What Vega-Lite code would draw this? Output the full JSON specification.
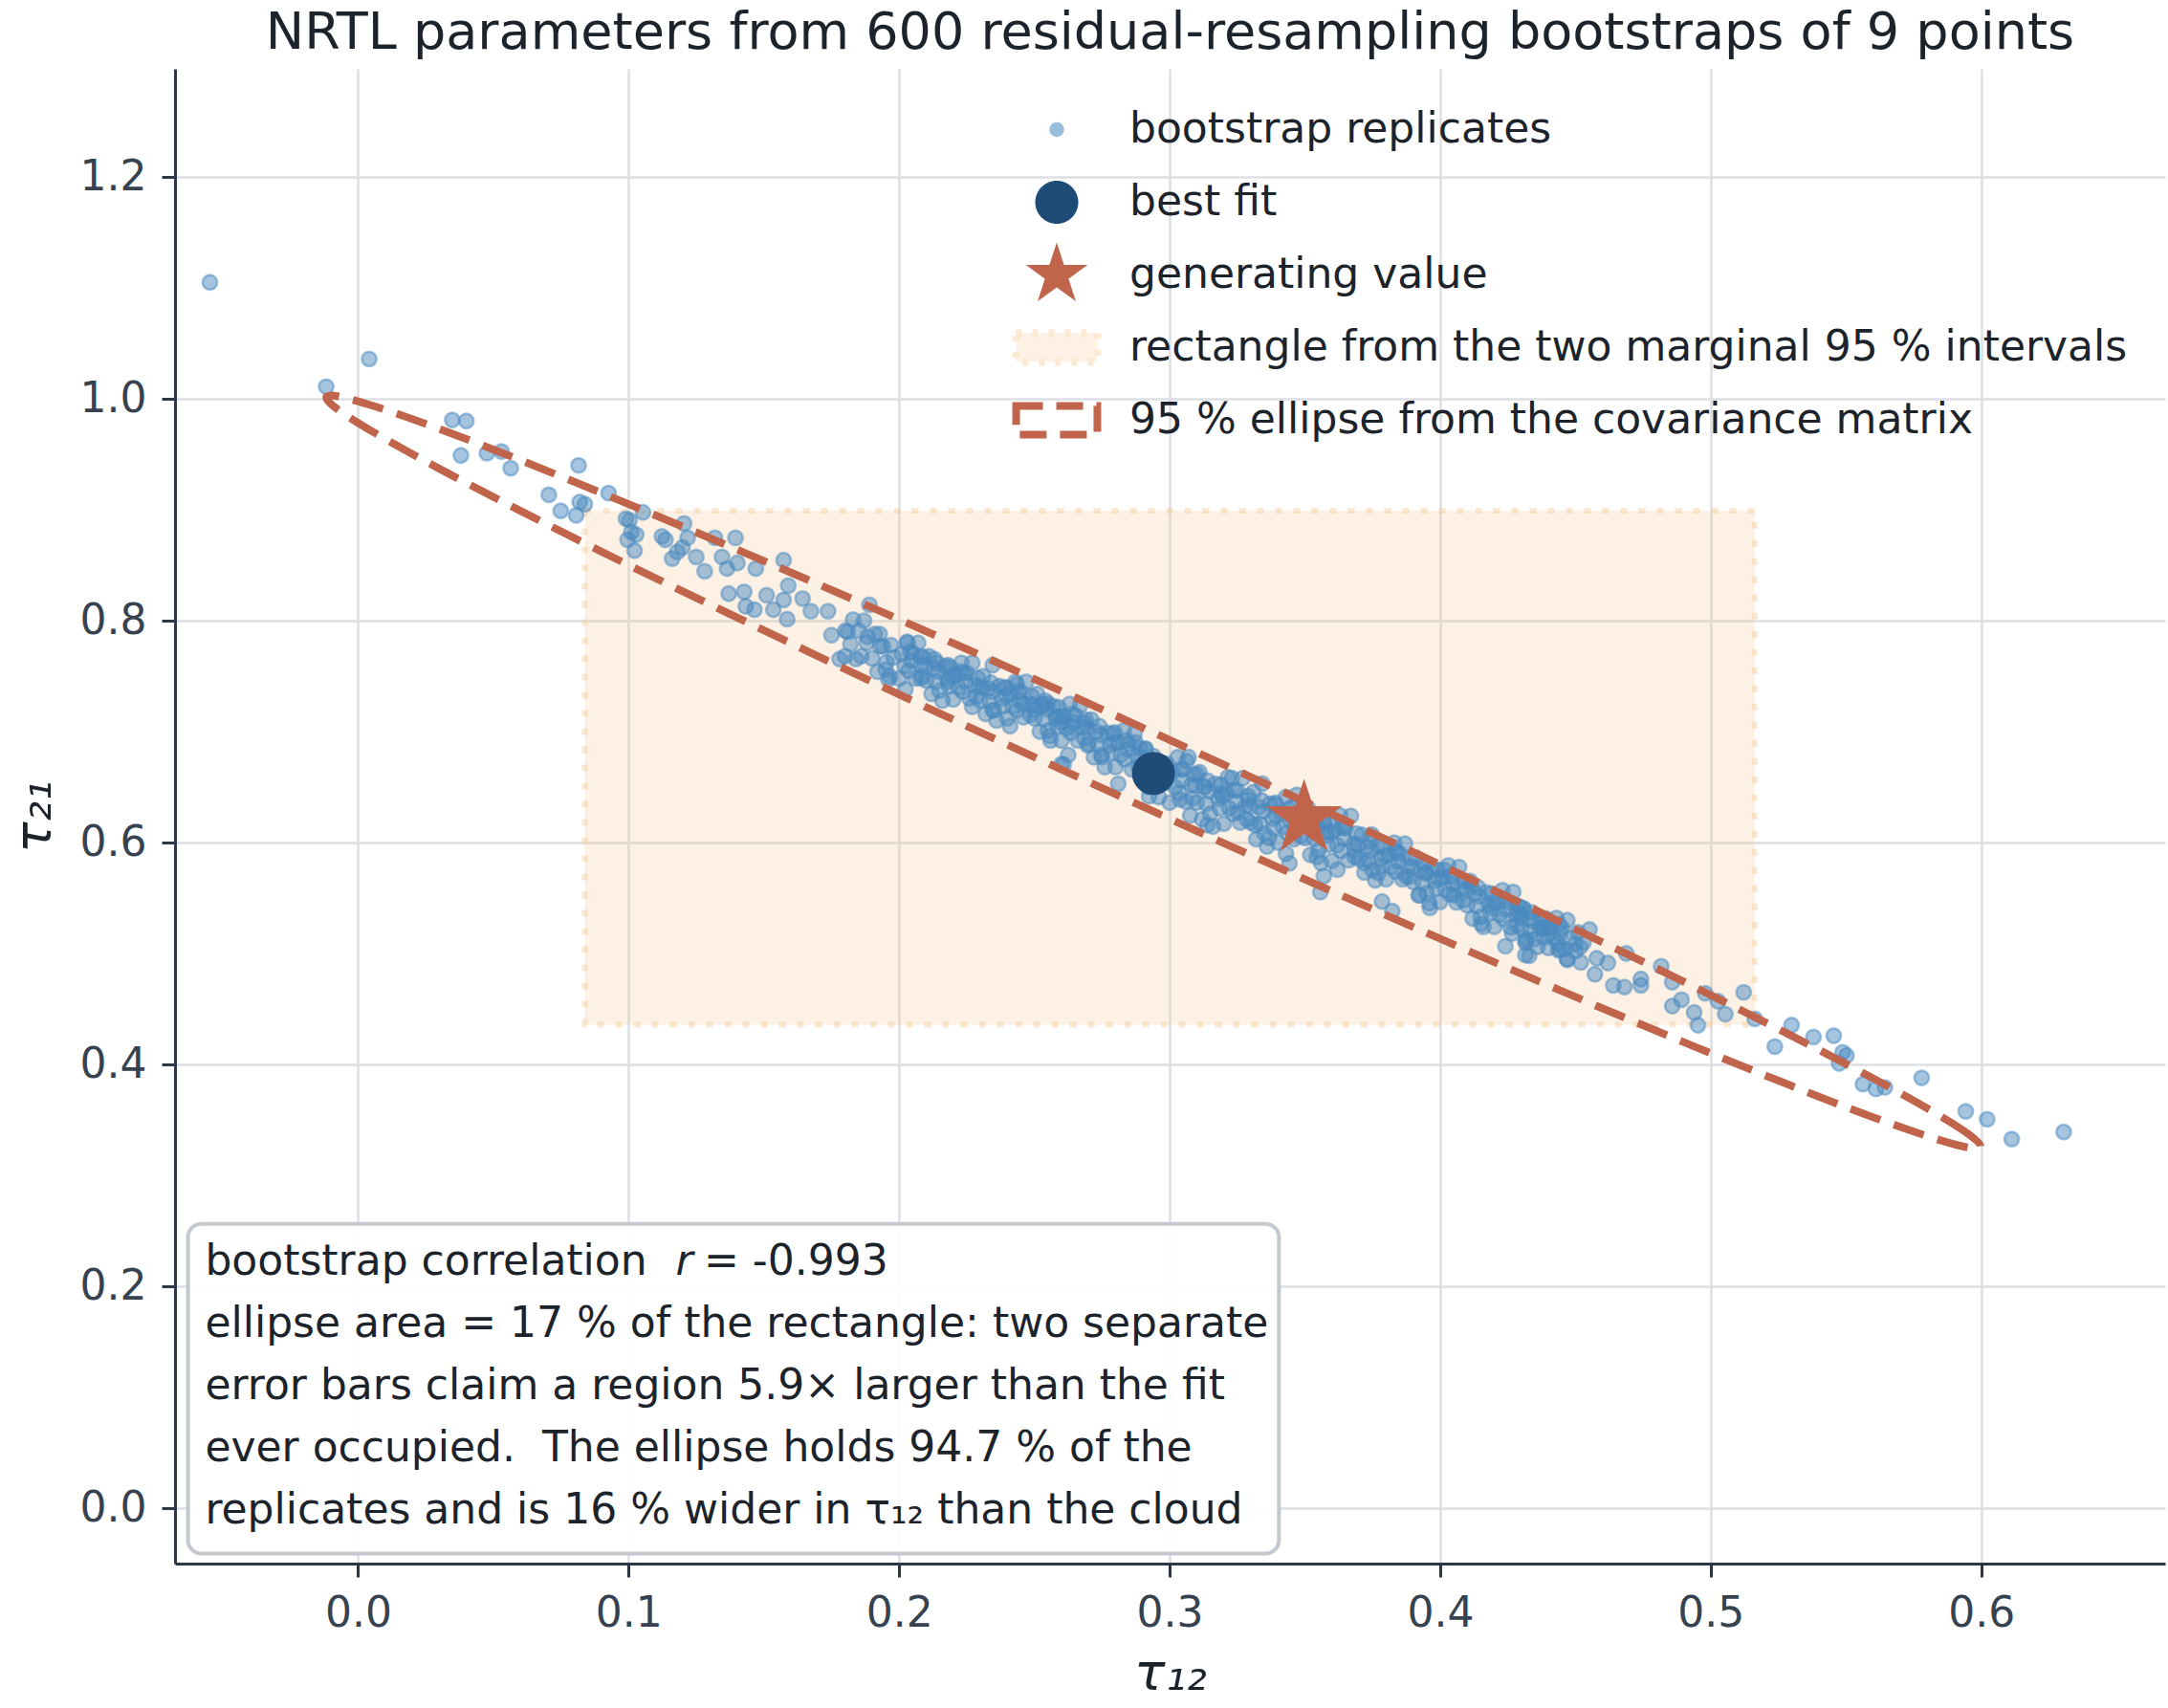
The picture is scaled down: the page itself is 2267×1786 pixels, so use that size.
{
  "$schema": "https://vega.github.io/schema/vega-lite/v6.json",
  "width": 2081,
  "height": 1563,
  "autosize": {"type": "none"},
  "padding": {"left": 183, "top": 72, "right": 3, "bottom": 151},
  "background": "white",
  "title": {
    "text": "NRTL parameters from 600 residual-resampling bootstraps of 9 points",
    "font": "DejaVu Sans",
    "fontSize": 54,
    "fontWeight": "normal",
    "color": "#1c232b",
    "anchor": "middle",
    "offset": 10
  },
  "datasets": {
    "interval": [{"x_lo": 0.0838, "x_hi": 0.5163, "y_lo": 0.4359, "y_hi": 0.8992}],
    "best": [{"t12": 0.294, "t21": 0.6624}],
    "truth": [{"t12": 0.3497, "t21": 0.6216}],
    "ellipse": [
      {"i": 0, "t12": 0.5998, "t21": 0.3261},
      {"i": 1, "t12": 0.5952, "t21": 0.3374},
      {"i": 2, "t12": 0.5814, "t21": 0.3585},
      {"i": 3, "t12": 0.5588, "t21": 0.3891},
      {"i": 4, "t12": 0.5282, "t21": 0.4279},
      {"i": 5, "t12": 0.4906, "t21": 0.4739},
      {"i": 6, "t12": 0.4469, "t21": 0.5255},
      {"i": 7, "t12": 0.3986, "t21": 0.5816},
      {"i": 8, "t12": 0.3471, "t21": 0.64},
      {"i": 9, "t12": 0.294, "t21": 0.6991},
      {"i": 10, "t12": 0.2409, "t21": 0.7572},
      {"i": 11, "t12": 0.1894, "t21": 0.8124},
      {"i": 12, "t12": 0.1411, "t21": 0.8631},
      {"i": 13, "t12": 0.0974, "t21": 0.9077},
      {"i": 14, "t12": 0.0598, "t21": 0.9449},
      {"i": 15, "t12": 0.0292, "t21": 0.9737},
      {"i": 16, "t12": 0.0066, "t21": 0.9929},
      {"i": 17, "t12": -0.0072, "t21": 1.0022},
      {"i": 18, "t12": -0.0118, "t21": 1.0011},
      {"i": 19, "t12": -0.0072, "t21": 0.9898},
      {"i": 20, "t12": 0.0066, "t21": 0.9687},
      {"i": 21, "t12": 0.0292, "t21": 0.9381},
      {"i": 22, "t12": 0.0598, "t21": 0.8993},
      {"i": 23, "t12": 0.0974, "t21": 0.8533},
      {"i": 24, "t12": 0.1411, "t21": 0.8017},
      {"i": 25, "t12": 0.1894, "t21": 0.7456},
      {"i": 26, "t12": 0.2409, "t21": 0.6872},
      {"i": 27, "t12": 0.294, "t21": 0.6281},
      {"i": 28, "t12": 0.3471, "t21": 0.57},
      {"i": 29, "t12": 0.3986, "t21": 0.5148},
      {"i": 30, "t12": 0.4469, "t21": 0.4641},
      {"i": 31, "t12": 0.4906, "t21": 0.4195},
      {"i": 32, "t12": 0.5282, "t21": 0.3823},
      {"i": 33, "t12": 0.5588, "t21": 0.3535},
      {"i": 34, "t12": 0.5814, "t21": 0.3343},
      {"i": 35, "t12": 0.5952, "t21": 0.325}
    ],
    "boot": [
      {"t12": -0.0548, "t21": 1.105}, {"t12": -0.0118, "t21": 1.011}, {"t12": 0.0041, "t21": 1.036},
      {"t12": 0.0348, "t21": 0.981}, {"t12": 0.04, "t21": 0.98}, {"t12": 0.038, "t21": 0.949},
      {"t12": 0.0476, "t21": 0.951}, {"t12": 0.053, "t21": 0.9525}, {"t12": 0.0564, "t21": 0.9375},
      {"t12": 0.0705, "t21": 0.9135}, {"t12": 0.0749, "t21": 0.899}, {"t12": 0.0806, "t21": 0.895},
      {"t12": 0.0819, "t21": 0.907}, {"t12": 0.0838, "t21": 0.905}, {"t12": 0.0815, "t21": 0.94},
      {"t12": 0.0926, "t21": 0.915}, {"t12": 0.099, "t21": 0.892}, {"t12": 0.1003, "t21": 0.8905},
      {"t12": 0.1028, "t21": 0.8776}, {"t12": 0.0996, "t21": 0.873}, {"t12": 0.1022, "t21": 0.8632},
      {"t12": 0.101, "t21": 0.88}, {"t12": 0.1053, "t21": 0.8977}, {"t12": 0.1123, "t21": 0.876},
      {"t12": 0.1136, "t21": 0.873}, {"t12": 0.1161, "t21": 0.856}, {"t12": 0.118, "t21": 0.862},
      {"t12": 0.1205, "t21": 0.8877}, {"t12": 0.1218, "t21": 0.8747}, {"t12": 0.1199, "t21": 0.866},
      {"t12": 0.125, "t21": 0.8575}, {"t12": 0.1281, "t21": 0.8446}, {"t12": 0.1319, "t21": 0.8747},
      {"t12": 0.1395, "t21": 0.8747}, {"t12": 0.1345, "t21": 0.8575}, {"t12": 0.1364, "t21": 0.847},
      {"t12": 0.1402, "t21": 0.852}, {"t12": 0.147, "t21": 0.847}, {"t12": 0.1573, "t21": 0.8546},
      {"t12": 0.137, "t21": 0.8244}, {"t12": 0.1427, "t21": 0.826}, {"t12": 0.1433, "t21": 0.813},
      {"t12": 0.1465, "t21": 0.81}, {"t12": 0.151, "t21": 0.823}, {"t12": 0.1535, "t21": 0.81},
      {"t12": 0.1573, "t21": 0.8187}, {"t12": 0.1586, "t21": 0.8014}, {"t12": 0.159, "t21": 0.8316},
      {"t12": 0.1643, "t21": 0.82}, {"t12": 0.1674, "t21": 0.8086}, {"t12": 0.1737, "t21": 0.8086},
      {"t12": 0.175, "t21": 0.787}, {"t12": 0.1801, "t21": 0.791}, {"t12": 0.178, "t21": 0.7655},
      {"t12": 0.184, "t21": 0.7655}, {"t12": 0.189, "t21": 0.8144}, {"t12": 0.1883, "t21": 0.7856},
      {"t12": 0.1928, "t21": 0.788}, {"t12": 0.194, "t21": 0.777}, {"t12": 0.1953, "t21": 0.7626},
      {"t12": 0.1966, "t21": 0.7497}, {"t12": 0.2023, "t21": 0.738}, {"t12": 0.203, "t21": 0.78},
      {"t12": 0.208, "t21": 0.748}, {"t12": 0.208, "t21": 0.768}, {"t12": 0.213, "t21": 0.7655},
      {"t12": 0.218, "t21": 0.745}, {"t12": 0.218, "t21": 0.76}, {"t12": 0.223, "t21": 0.754},
      {"t12": 0.227, "t21": 0.7224}, {"t12": 0.2346, "t21": 0.76}, {"t12": 0.2308, "t21": 0.7396},
      {"t12": 0.2346, "t21": 0.7195}, {"t12": 0.2397, "t21": 0.7396}, {"t12": 0.2435, "t21": 0.7425},
      {"t12": 0.241, "t21": 0.705}, {"t12": 0.246, "t21": 0.725}, {"t12": 0.25, "t21": 0.7195},
      {"t12": 0.255, "t21": 0.7253}, {"t12": 0.26, "t21": 0.708}, {"t12": 0.2625, "t21": 0.679},
      {"t12": 0.26, "t21": 0.6707},
      {"t12": 0.2532, "t21": 0.725}, {"t12": 0.2582, "t21": 0.7135}, {"t12": 0.2557, "t21": 0.696},
      {"t12": 0.2633, "t21": 0.705}, {"t12": 0.2684, "t21": 0.7078}, {"t12": 0.2697, "t21": 0.6877},
      {"t12": 0.2608, "t21": 0.6704}, {"t12": 0.2747, "t21": 0.679}, {"t12": 0.2797, "t21": 0.6992},
      {"t12": 0.281, "t21": 0.653}, {"t12": 0.2873, "t21": 0.6905}, {"t12": 0.2911, "t21": 0.6848},
      {"t12": 0.2924, "t21": 0.6417}, {"t12": 0.3063, "t21": 0.6733}, {"t12": 0.3101, "t21": 0.6618},
      {"t12": 0.3038, "t21": 0.6388}, {"t12": 0.3076, "t21": 0.6244}, {"t12": 0.3127, "t21": 0.6503},
      {"t12": 0.3139, "t21": 0.6158}, {"t12": 0.319, "t21": 0.6445}, {"t12": 0.3215, "t21": 0.6589},
      {"t12": 0.3253, "t21": 0.6273}, {"t12": 0.3291, "t21": 0.6388}, {"t12": 0.3342, "t21": 0.6532},
      {"t12": 0.3316, "t21": 0.6158}, {"t12": 0.3367, "t21": 0.6043}, {"t12": 0.3392, "t21": 0.6359},
      {"t12": 0.343, "t21": 0.59}, {"t12": 0.3443, "t21": 0.5813}, {"t12": 0.357, "t21": 0.6187},
      {"t12": 0.3582, "t21": 0.61}, {"t12": 0.3544, "t21": 0.587}, {"t12": 0.357, "t21": 0.5698},
      {"t12": 0.3557, "t21": 0.5554}, {"t12": 0.362, "t21": 0.5756}, {"t12": 0.3646, "t21": 0.6158},
      {"t12": 0.3684, "t21": 0.5928}, {"t12": 0.3747, "t21": 0.6072}, {"t12": 0.3722, "t21": 0.5813},
      {"t12": 0.3772, "t21": 0.5727}, {"t12": 0.3785, "t21": 0.5468}, {"t12": 0.3823, "t21": 0.5382},
      {"t12": 0.3835, "t21": 0.5928}, {"t12": 0.3873, "t21": 0.5698}, {"t12": 0.3924, "t21": 0.5526},
      {"t12": 0.3962, "t21": 0.5411}, {"t12": 0.3949, "t21": 0.5727}, {"t12": 0.4013, "t21": 0.5756},
      {"t12": 0.4051, "t21": 0.5526}, {"t12": 0.4114, "t21": 0.5612}, {"t12": 0.4152, "t21": 0.5267},
      {"t12": 0.419, "t21": 0.5411}, {"t12": 0.4241, "t21": 0.5066}, {"t12": 0.4266, "t21": 0.5181},
      {"t12": 0.4316, "t21": 0.5095}, {"t12": 0.4329, "t21": 0.498}, {"t12": 0.4304, "t21": 0.5411},
      {"t12": 0.438, "t21": 0.5238}, {"t12": 0.4443, "t21": 0.5037}, {"t12": 0.4468, "t21": 0.4951},
      {"t12": 0.4288, "t21": 0.5374}, {"t12": 0.4301, "t21": 0.5316}, {"t12": 0.4315, "t21": 0.5115},
      {"t12": 0.4315, "t21": 0.4986}, {"t12": 0.4369, "t21": 0.523}, {"t12": 0.4403, "t21": 0.5173},
      {"t12": 0.4437, "t21": 0.5029}, {"t12": 0.4471, "t21": 0.4943}, {"t12": 0.4498, "t21": 0.5086},
      {"t12": 0.4552, "t21": 0.5216}, {"t12": 0.4518, "t21": 0.5058}, {"t12": 0.4579, "t21": 0.4957},
      {"t12": 0.4572, "t21": 0.4813}, {"t12": 0.462, "t21": 0.4914}, {"t12": 0.464, "t21": 0.4713},
      {"t12": 0.4681, "t21": 0.4698}, {"t12": 0.4688, "t21": 0.5}, {"t12": 0.4742, "t21": 0.477},
      {"t12": 0.4742, "t21": 0.4713}, {"t12": 0.4817, "t21": 0.4885}, {"t12": 0.4858, "t21": 0.4742},
      {"t12": 0.4858, "t21": 0.4526}, {"t12": 0.4892, "t21": 0.4583}, {"t12": 0.4939, "t21": 0.4469},
      {"t12": 0.4953, "t21": 0.4354}, {"t12": 0.498, "t21": 0.4641}, {"t12": 0.5027, "t21": 0.4569},
      {"t12": 0.5054, "t21": 0.4454}, {"t12": 0.5122, "t21": 0.465}, {"t12": 0.5163, "t21": 0.4411},
      {"t12": 0.5237, "t21": 0.4161}, {"t12": 0.5299, "t21": 0.4354}, {"t12": 0.538, "t21": 0.4247},
      {"t12": 0.5455, "t21": 0.4259}, {"t12": 0.5488, "t21": 0.4109}, {"t12": 0.5502, "t21": 0.408},
      {"t12": 0.5475, "t21": 0.4009}, {"t12": 0.5563, "t21": 0.3822}, {"t12": 0.5611, "t21": 0.3779},
      {"t12": 0.5644, "t21": 0.3793}, {"t12": 0.578, "t21": 0.3879}, {"t12": 0.5943, "t21": 0.3577},
      {"t12": 0.6022, "t21": 0.3506}, {"t12": 0.6113, "t21": 0.3327}, {"t12": 0.6305, "t21": 0.3391},
      {"t12": 0.18, "t21": 0.768}, {"t12": 0.182, "t21": 0.779}, {"t12": 0.181, "t21": 0.79}, {"t12": 0.183, "t21": 0.801},
      {"t12": 0.186, "t21": 0.768}, {"t12": 0.188, "t21": 0.78}, {"t12": 0.185, "t21": 0.791}, {"t12": 0.187, "t21": 0.8},
      {"t12": 0.192, "t21": 0.754}, {"t12": 0.19, "t21": 0.766}, {"t12": 0.193, "t21": 0.777}, {"t12": 0.191, "t21": 0.788},
      {"t12": 0.195, "t21": 0.756}, {"t12": 0.198, "t21": 0.767}, {"t12": 0.197, "t21": 0.778}, {"t12": 0.196, "t21": 0.747},
      {"t12": 0.2, "t21": 0.748}, {"t12": 0.202, "t21": 0.759}, {"t12": 0.201, "t21": 0.77}, {"t12": 0.203, "t21": 0.781},
      {"t12": 0.206, "t21": 0.748}, {"t12": 0.208, "t21": 0.76}, {"t12": 0.205, "t21": 0.771}, {"t12": 0.207, "t21": 0.78},
      {"t12": 0.212, "t21": 0.734}, {"t12": 0.21, "t21": 0.746}, {"t12": 0.213, "t21": 0.757}, {"t12": 0.211, "t21": 0.768},
      {"t12": 0.215, "t21": 0.737}, {"t12": 0.218, "t21": 0.748}, {"t12": 0.217, "t21": 0.759}, {"t12": 0.216, "t21": 0.728},
      {"t12": 0.22, "t21": 0.729}, {"t12": 0.222, "t21": 0.74}, {"t12": 0.221, "t21": 0.751}, {"t12": 0.223, "t21": 0.762},
      {"t12": 0.226, "t21": 0.73}, {"t12": 0.228, "t21": 0.742}, {"t12": 0.225, "t21": 0.753}, {"t12": 0.227, "t21": 0.762},
      {"t12": 0.232, "t21": 0.716}, {"t12": 0.23, "t21": 0.728}, {"t12": 0.233, "t21": 0.739}, {"t12": 0.231, "t21": 0.75},
      {"t12": 0.235, "t21": 0.719}, {"t12": 0.238, "t21": 0.73}, {"t12": 0.237, "t21": 0.741}, {"t12": 0.236, "t21": 0.71},
      {"t12": 0.24, "t21": 0.712}, {"t12": 0.242, "t21": 0.723}, {"t12": 0.241, "t21": 0.734}, {"t12": 0.243, "t21": 0.745},
      {"t12": 0.246, "t21": 0.713}, {"t12": 0.248, "t21": 0.725}, {"t12": 0.245, "t21": 0.736}, {"t12": 0.247, "t21": 0.745},
      {"t12": 0.252, "t21": 0.7}, {"t12": 0.25, "t21": 0.712}, {"t12": 0.253, "t21": 0.723}, {"t12": 0.251, "t21": 0.734},
      {"t12": 0.255, "t21": 0.701}, {"t12": 0.258, "t21": 0.712}, {"t12": 0.257, "t21": 0.723}, {"t12": 0.256, "t21": 0.692},
      {"t12": 0.26, "t21": 0.692}, {"t12": 0.262, "t21": 0.703}, {"t12": 0.261, "t21": 0.714}, {"t12": 0.263, "t21": 0.725},
      {"t12": 0.266, "t21": 0.692}, {"t12": 0.268, "t21": 0.704}, {"t12": 0.265, "t21": 0.715}, {"t12": 0.267, "t21": 0.724},
      {"t12": 0.272, "t21": 0.677}, {"t12": 0.27, "t21": 0.689}, {"t12": 0.273, "t21": 0.7}, {"t12": 0.271, "t21": 0.711},
      {"t12": 0.275, "t21": 0.677}, {"t12": 0.278, "t21": 0.688}, {"t12": 0.277, "t21": 0.699}, {"t12": 0.276, "t21": 0.668},
      {"t12": 0.28, "t21": 0.668}, {"t12": 0.282, "t21": 0.679}, {"t12": 0.281, "t21": 0.69}, {"t12": 0.283, "t21": 0.701},
      {"t12": 0.286, "t21": 0.666}, {"t12": 0.288, "t21": 0.678}, {"t12": 0.285, "t21": 0.689}, {"t12": 0.287, "t21": 0.698},
      {"t12": 0.292, "t21": 0.65}, {"t12": 0.29, "t21": 0.662}, {"t12": 0.293, "t21": 0.673}, {"t12": 0.291, "t21": 0.684},
      {"t12": 0.295, "t21": 0.65}, {"t12": 0.298, "t21": 0.661}, {"t12": 0.297, "t21": 0.672}, {"t12": 0.296, "t21": 0.641},
      {"t12": 0.3, "t21": 0.636}, {"t12": 0.302, "t21": 0.65}, {"t12": 0.301, "t21": 0.6635}, {"t12": 0.303, "t21": 0.677},
      {"t12": 0.306, "t21": 0.637}, {"t12": 0.308, "t21": 0.652}, {"t12": 0.305, "t21": 0.666}, {"t12": 0.307, "t21": 0.677},
      {"t12": 0.312, "t21": 0.621}, {"t12": 0.31, "t21": 0.636}, {"t12": 0.313, "t21": 0.65}, {"t12": 0.311, "t21": 0.6635},
      {"t12": 0.315, "t21": 0.626}, {"t12": 0.318, "t21": 0.6395}, {"t12": 0.317, "t21": 0.653}, {"t12": 0.316, "t21": 0.6145},
      {"t12": 0.32, "t21": 0.617}, {"t12": 0.322, "t21": 0.631}, {"t12": 0.321, "t21": 0.6445}, {"t12": 0.323, "t21": 0.658},
      {"t12": 0.326, "t21": 0.618}, {"t12": 0.328, "t21": 0.633}, {"t12": 0.325, "t21": 0.647}, {"t12": 0.327, "t21": 0.658},
      {"t12": 0.332, "t21": 0.603}, {"t12": 0.33, "t21": 0.618}, {"t12": 0.333, "t21": 0.632}, {"t12": 0.331, "t21": 0.6455},
      {"t12": 0.335, "t21": 0.608}, {"t12": 0.338, "t21": 0.6215}, {"t12": 0.337, "t21": 0.635}, {"t12": 0.336, "t21": 0.5965},
      {"t12": 0.34, "t21": 0.6}, {"t12": 0.342, "t21": 0.614}, {"t12": 0.341, "t21": 0.6275}, {"t12": 0.343, "t21": 0.641},
      {"t12": 0.346, "t21": 0.603}, {"t12": 0.348, "t21": 0.618}, {"t12": 0.345, "t21": 0.632}, {"t12": 0.347, "t21": 0.643},
      {"t12": 0.352, "t21": 0.589}, {"t12": 0.35, "t21": 0.604}, {"t12": 0.353, "t21": 0.618}, {"t12": 0.351, "t21": 0.6315},
      {"t12": 0.355, "t21": 0.593}, {"t12": 0.358, "t21": 0.6065}, {"t12": 0.357, "t21": 0.62}, {"t12": 0.356, "t21": 0.5815},
      {"t12": 0.36, "t21": 0.5835}, {"t12": 0.362, "t21": 0.5975}, {"t12": 0.361, "t21": 0.611}, {"t12": 0.363, "t21": 0.6245},
      {"t12": 0.366, "t21": 0.584}, {"t12": 0.368, "t21": 0.599}, {"t12": 0.365, "t21": 0.613}, {"t12": 0.367, "t21": 0.624},
      {"t12": 0.372, "t21": 0.573}, {"t12": 0.37, "t21": 0.585}, {"t12": 0.373, "t21": 0.596}, {"t12": 0.371, "t21": 0.607},
      {"t12": 0.375, "t21": 0.575}, {"t12": 0.378, "t21": 0.586}, {"t12": 0.377, "t21": 0.597}, {"t12": 0.376, "t21": 0.566},
      {"t12": 0.38, "t21": 0.567}, {"t12": 0.382, "t21": 0.578}, {"t12": 0.381, "t21": 0.589}, {"t12": 0.383, "t21": 0.6},
      {"t12": 0.386, "t21": 0.567}, {"t12": 0.388, "t21": 0.579}, {"t12": 0.385, "t21": 0.59}, {"t12": 0.387, "t21": 0.599},
      {"t12": 0.392, "t21": 0.5525}, {"t12": 0.39, "t21": 0.5645}, {"t12": 0.393, "t21": 0.5755}, {"t12": 0.391, "t21": 0.5865},
      {"t12": 0.395, "t21": 0.5545}, {"t12": 0.398, "t21": 0.5655}, {"t12": 0.397, "t21": 0.5765}, {"t12": 0.396, "t21": 0.5455},
      {"t12": 0.4, "t21": 0.5465}, {"t12": 0.402, "t21": 0.5575}, {"t12": 0.401, "t21": 0.5685}, {"t12": 0.403, "t21": 0.5795},
      {"t12": 0.406, "t21": 0.546}, {"t12": 0.408, "t21": 0.558}, {"t12": 0.405, "t21": 0.569}, {"t12": 0.407, "t21": 0.578},
      {"t12": 0.412, "t21": 0.5315}, {"t12": 0.41, "t21": 0.5435}, {"t12": 0.413, "t21": 0.5545}, {"t12": 0.411, "t21": 0.5655},
      {"t12": 0.415, "t21": 0.533}, {"t12": 0.418, "t21": 0.544}, {"t12": 0.417, "t21": 0.555}, {"t12": 0.416, "t21": 0.524},
      {"t12": 0.42, "t21": 0.524}, {"t12": 0.422, "t21": 0.535}, {"t12": 0.421, "t21": 0.546}, {"t12": 0.423, "t21": 0.557},
      {"t12": 0.426, "t21": 0.5235}, {"t12": 0.428, "t21": 0.5355}, {"t12": 0.425, "t21": 0.5465}, {"t12": 0.427, "t21": 0.5555},
      {"t12": 0.432, "t21": 0.513}, {"t12": 0.43, "t21": 0.5226}, {"t12": 0.433, "t21": 0.5314}, {"t12": 0.431, "t21": 0.5402},
      {"t12": 0.435, "t21": 0.513}, {"t12": 0.438, "t21": 0.522}, {"t12": 0.437, "t21": 0.531}, {"t12": 0.436, "t21": 0.506},
      {"t12": 0.44, "t21": 0.505}, {"t12": 0.442, "t21": 0.514}, {"t12": 0.441, "t21": 0.523}, {"t12": 0.443, "t21": 0.532},
      {"t12": 0.446, "t21": 0.504}, {"t12": 0.448, "t21": 0.514}, {"t12": 0.445, "t21": 0.523}, {"t12": 0.447, "t21": 0.53},
      {"t12": 0.452, "t21": 0.492}, {"t12": 0.45, "t21": 0.502}, {"t12": 0.453, "t21": 0.51}, {"t12": 0.451, "t21": 0.519},
      {"t12": 0.2035, "t21": 0.755}, {"t12": 0.204, "t21": 0.772}, {"t12": 0.2045, "t21": 0.764},
      {"t12": 0.2085, "t21": 0.75}, {"t12": 0.209, "t21": 0.767}, {"t12": 0.2095, "t21": 0.759},
      {"t12": 0.2135, "t21": 0.745}, {"t12": 0.214, "t21": 0.762}, {"t12": 0.2145, "t21": 0.754},
      {"t12": 0.2185, "t21": 0.741}, {"t12": 0.219, "t21": 0.758}, {"t12": 0.2195, "t21": 0.75},
      {"t12": 0.2235, "t21": 0.736}, {"t12": 0.224, "t21": 0.753}, {"t12": 0.2245, "t21": 0.745},
      {"t12": 0.2285, "t21": 0.7315}, {"t12": 0.229, "t21": 0.7485}, {"t12": 0.2295, "t21": 0.7405},
      {"t12": 0.2335, "t21": 0.727}, {"t12": 0.234, "t21": 0.744}, {"t12": 0.2345, "t21": 0.736},
      {"t12": 0.2385, "t21": 0.723}, {"t12": 0.239, "t21": 0.74}, {"t12": 0.2395, "t21": 0.732},
      {"t12": 0.2435, "t21": 0.719}, {"t12": 0.244, "t21": 0.736}, {"t12": 0.2445, "t21": 0.728},
      {"t12": 0.2485, "t21": 0.715}, {"t12": 0.249, "t21": 0.732}, {"t12": 0.2495, "t21": 0.724},
      {"t12": 0.2535, "t21": 0.711}, {"t12": 0.254, "t21": 0.728}, {"t12": 0.2545, "t21": 0.72},
      {"t12": 0.2585, "t21": 0.705}, {"t12": 0.259, "t21": 0.722}, {"t12": 0.2595, "t21": 0.714},
      {"t12": 0.2635, "t21": 0.699}, {"t12": 0.264, "t21": 0.716}, {"t12": 0.2645, "t21": 0.708},
      {"t12": 0.2685, "t21": 0.694}, {"t12": 0.269, "t21": 0.711}, {"t12": 0.2695, "t21": 0.703},
      {"t12": 0.2735, "t21": 0.688}, {"t12": 0.274, "t21": 0.705}, {"t12": 0.2745, "t21": 0.697},
      {"t12": 0.2785, "t21": 0.681}, {"t12": 0.279, "t21": 0.698}, {"t12": 0.2795, "t21": 0.69},
      {"t12": 0.2835, "t21": 0.675}, {"t12": 0.284, "t21": 0.692}, {"t12": 0.2845, "t21": 0.684},
      {"t12": 0.2885, "t21": 0.668}, {"t12": 0.289, "t21": 0.685}, {"t12": 0.2895, "t21": 0.677},
      {"t12": 0.2935, "t21": 0.661}, {"t12": 0.294, "t21": 0.678}, {"t12": 0.2945, "t21": 0.67},
      {"t12": 0.2985, "t21": 0.654}, {"t12": 0.299, "t21": 0.671}, {"t12": 0.2995, "t21": 0.663},
      {"t12": 0.3035, "t21": 0.645}, {"t12": 0.304, "t21": 0.666}, {"t12": 0.3045, "t21": 0.656},
      {"t12": 0.3085, "t21": 0.64}, {"t12": 0.309, "t21": 0.661}, {"t12": 0.3095, "t21": 0.651},
      {"t12": 0.3135, "t21": 0.635}, {"t12": 0.314, "t21": 0.656}, {"t12": 0.3145, "t21": 0.646},
      {"t12": 0.3185, "t21": 0.631}, {"t12": 0.319, "t21": 0.652}, {"t12": 0.3195, "t21": 0.642},
      {"t12": 0.3235, "t21": 0.626}, {"t12": 0.324, "t21": 0.647}, {"t12": 0.3245, "t21": 0.637},
      {"t12": 0.3285, "t21": 0.621}, {"t12": 0.329, "t21": 0.642}, {"t12": 0.3295, "t21": 0.632},
      {"t12": 0.3335, "t21": 0.617}, {"t12": 0.334, "t21": 0.638}, {"t12": 0.3345, "t21": 0.628},
      {"t12": 0.3385, "t21": 0.613}, {"t12": 0.339, "t21": 0.634}, {"t12": 0.3395, "t21": 0.624},
      {"t12": 0.3435, "t21": 0.609}, {"t12": 0.344, "t21": 0.63}, {"t12": 0.3445, "t21": 0.62},
      {"t12": 0.3485, "t21": 0.606}, {"t12": 0.349, "t21": 0.627}, {"t12": 0.3495, "t21": 0.617},
      {"t12": 0.3535, "t21": 0.603}, {"t12": 0.354, "t21": 0.624}, {"t12": 0.3545, "t21": 0.614},
      {"t12": 0.3585, "t21": 0.598}, {"t12": 0.359, "t21": 0.619}, {"t12": 0.3595, "t21": 0.609},
      {"t12": 0.3635, "t21": 0.5925}, {"t12": 0.364, "t21": 0.6135}, {"t12": 0.3645, "t21": 0.6035},
      {"t12": 0.3685, "t21": 0.587}, {"t12": 0.369, "t21": 0.608}, {"t12": 0.3695, "t21": 0.598},
      {"t12": 0.3735, "t21": 0.584}, {"t12": 0.374, "t21": 0.601}, {"t12": 0.3745, "t21": 0.593},
      {"t12": 0.3785, "t21": 0.579}, {"t12": 0.379, "t21": 0.596}, {"t12": 0.3795, "t21": 0.588},
      {"t12": 0.3835, "t21": 0.574}, {"t12": 0.384, "t21": 0.591}, {"t12": 0.3845, "t21": 0.583},
      {"t12": 0.3885, "t21": 0.569}, {"t12": 0.389, "t21": 0.586}, {"t12": 0.3895, "t21": 0.578},
      {"t12": 0.3935, "t21": 0.5635}, {"t12": 0.394, "t21": 0.5805}, {"t12": 0.3945, "t21": 0.5725},
      {"t12": 0.3985, "t21": 0.5585}, {"t12": 0.399, "t21": 0.5755}, {"t12": 0.3995, "t21": 0.5675},
      {"t12": 0.4035, "t21": 0.5535}, {"t12": 0.404, "t21": 0.5705}, {"t12": 0.4045, "t21": 0.5625},
      {"t12": 0.4085, "t21": 0.548}, {"t12": 0.409, "t21": 0.565}, {"t12": 0.4095, "t21": 0.557},
      {"t12": 0.4135, "t21": 0.5425}, {"t12": 0.414, "t21": 0.5595}, {"t12": 0.4145, "t21": 0.5515},
      {"t12": 0.4185, "t21": 0.537}, {"t12": 0.419, "t21": 0.554}, {"t12": 0.4195, "t21": 0.546},
      {"t12": 0.4235, "t21": 0.531}, {"t12": 0.424, "t21": 0.548}, {"t12": 0.4245, "t21": 0.54},
      {"t12": 0.4285, "t21": 0.5255}, {"t12": 0.429, "t21": 0.5425}, {"t12": 0.4295, "t21": 0.5345},
      {"t12": 0.4335, "t21": 0.52}, {"t12": 0.434, "t21": 0.537}, {"t12": 0.4345, "t21": 0.529},
      {"t12": 0.4385, "t21": 0.5145}, {"t12": 0.439, "t21": 0.5315}, {"t12": 0.4395, "t21": 0.5235},
      {"t12": 0.4435, "t21": 0.509}, {"t12": 0.444, "t21": 0.526}, {"t12": 0.4445, "t21": 0.518}
    ]
  },
  "layer": [
    {
      "data": {"name": "interval"},
      "mark": {
        "type": "rect",
        "fill": "#f2c792",
        "fillOpacity": 0.25,
        "stroke": "#f2c792",
        "strokeOpacity": 0.4,
        "strokeWidth": 6,
        "strokeDash": [7, 12]
      },
      "encoding": {
        "x": {
          "field": "x_lo",
          "type": "quantitative",
          "scale": {"domain": [-0.0677, 0.668], "nice": false, "zero": false},
          "axis": {
            "orient": "bottom",
            "title": "τ₁₂",
            "values": [0, 0.1, 0.2, 0.3, 0.4, 0.5, 0.6],
            "format": ".1f",
            "titlePadding": 14,
            "titleFontStyle": "italic"
          }
        },
        "x2": {"field": "x_hi"},
        "y": {
          "field": "y_lo",
          "type": "quantitative",
          "scale": {"domain": [-0.05, 1.2975], "nice": false, "zero": false},
          "axis": {
            "orient": "left",
            "title": "τ₂₁",
            "values": [0, 0.2, 0.4, 0.6, 0.8, 1.0, 1.2],
            "format": ".1f",
            "titlePadding": 20,
            "titleFontStyle": "italic"
          }
        },
        "y2": {"field": "y_hi"}
      }
    },
    {
      "data": {"name": "boot"},
      "mark": {
        "type": "point",
        "shape": "circle",
        "filled": true,
        "size": 235,
        "fill": "#4a89c0",
        "fillOpacity": 0.5,
        "stroke": "#4a89c0",
        "strokeOpacity": 0.5,
        "strokeWidth": 2.5,
        "opacity": 1
      },
      "encoding": {
        "x": {"field": "t12", "type": "quantitative"},
        "y": {"field": "t21", "type": "quantitative"}
      }
    },
    {
      "data": {"name": "ellipse"},
      "mark": {
        "type": "line",
        "interpolate": "cardinal-closed",
        "stroke": "#c0654b",
        "strokeWidth": 8,
        "strokeDash": [33, 15]
      },
      "encoding": {
        "x": {"field": "t12", "type": "quantitative"},
        "y": {"field": "t21", "type": "quantitative"},
        "order": {"field": "i", "type": "quantitative"}
      }
    },
    {
      "data": {"name": "best"},
      "mark": {"type": "point", "shape": "circle", "filled": true, "size": 2025, "fill": "#1e4b78", "opacity": 1},
      "encoding": {
        "x": {"field": "t12", "type": "quantitative"},
        "y": {"field": "t21", "type": "quantitative"}
      }
    },
    {
      "data": {"name": "truth"},
      "mark": {
        "type": "point",
        "shape": "M0,-1L0.2245,-0.309L0.9511,-0.309L0.3633,0.118L0.5878,0.809L0,0.382L-0.5878,0.809L-0.3633,0.118L-0.9511,-0.309L-0.2245,-0.309Z",
        "filled": true,
        "size": 7000,
        "fill": "#c0654b",
        "opacity": 1
      },
      "encoding": {
        "x": {"field": "t12", "type": "quantitative"},
        "y": {"field": "t21", "type": "quantitative"}
      }
    },
    {
      "data": {"values": []},
      "mark": {"type": "point", "filled": true, "opacity": 1, "strokeWidth": 8},
      "encoding": {
        "color": {
          "datum": "bootstrap replicates",
          "type": "nominal",
          "scale": {
            "domain": [
              "bootstrap replicates",
              "best fit",
              "generating value",
              "rectangle from the two marginal 95 % intervals",
              "95 % ellipse from the covariance matrix"
            ],
            "range": ["#9bbddc", "#1e4b78", "#c0654b", "#fcf1e4", "transparent"]
          },
          "legend": {
            "title": null,
            "orient": "none",
            "legendX": 896,
            "legendY": 37.5,
            "padding": 0,
            "symbolSize": 1936,
            "symbolStrokeWidth": 8,
            "symbolOpacity": 1,
            "labelFont": "DejaVu Sans",
            "labelFontSize": 44,
            "labelColor": "#1c232b",
            "labelOffset": 50,
            "labelLimit": 1400,
            "rowPadding": -39.7
          }
        },
        "stroke": {
          "datum": "bootstrap replicates",
          "type": "nominal",
          "scale": {
            "domain": [
              "bootstrap replicates",
              "best fit",
              "generating value",
              "rectangle from the two marginal 95 % intervals",
              "95 % ellipse from the covariance matrix"
            ],
            "range": ["transparent", "transparent", "transparent", "#fae9d3", "#c0654b"]
          }
        },
        "shape": {
          "datum": "bootstrap replicates",
          "type": "nominal",
          "scale": {
            "domain": [
              "bootstrap replicates",
              "best fit",
              "generating value",
              "rectangle from the two marginal 95 % intervals",
              "95 % ellipse from the covariance matrix"
            ],
            "range": [
              "M0,-1.545M0,1.545M0.348,0A0.348,0.348,0,1,1,-0.348,0A0.348,0.348,0,1,1,0.348,0Z",
              "M0,-1.545M0,1.545M1.023,0A1.023,1.023,0,1,1,-1.023,0A1.023,1.023,0,1,1,1.023,0Z",
              "M0,1.545M0,-1.545L0.3469,-0.4774L1.4694,-0.4774L0.5613,0.1823L0.9082,1.2499L0,0.5902L-0.9082,1.2499L-0.5613,0.1823L-1.4694,-0.4774L-0.3469,-0.4774Z",
              "M0,-1.545M0,1.545M-1.93,-0.682H1.93V0.682H-1.93Z",
              "M0,-1.545M0,1.545M-1.93,-0.682H1.93V0.682H-1.93Z"
            ]
          }
        },
        "strokeDash": {
          "datum": "bootstrap replicates",
          "type": "nominal",
          "scale": {
            "domain": [
              "bootstrap replicates",
              "best fit",
              "generating value",
              "rectangle from the two marginal 95 % intervals",
              "95 % ellipse from the covariance matrix"
            ],
            "range": [[1, 0], [1, 0], [1, 0], [6, 11], [28, 14]]
          }
        }
      }
    },
    {
      "data": {"values": [{}]},
      "mark": {
        "type": "rect",
        "fill": "#ffffff",
        "fillOpacity": 0.92,
        "stroke": "#c3c9cf",
        "strokeWidth": 4,
        "cornerRadius": 14
      },
      "encoding": {
        "x": {"datum": -0.0629, "type": "quantitative"},
        "x2": {"datum": 0.3404},
        "y": {"datum": 0.2562, "type": "quantitative"},
        "y2": {"datum": -0.0409}
      }
    },
    {
      "data": {"values": [{}]},
      "mark": {
        "type": "text",
        "text": "bootstrap correlation",
        "font": "DejaVu Sans",
        "fontSize": 44,
        "color": "#1c232b",
        "align": "left",
        "baseline": "alphabetic"
      },
      "encoding": {
        "x": {"datum": -0.0566, "type": "quantitative"},
        "y": {"datum": 0.2105, "type": "quantitative"}
      }
    },
    {
      "data": {"values": [{}]},
      "mark": {
        "type": "text",
        "text": "r",
        "font": "DejaVu Sans",
        "fontStyle": "italic",
        "fontSize": 44,
        "color": "#1c232b",
        "align": "left",
        "baseline": "alphabetic"
      },
      "encoding": {
        "x": {"datum": 0.1174, "type": "quantitative"},
        "y": {"datum": 0.2105, "type": "quantitative"}
      }
    },
    {
      "data": {"values": [{}]},
      "mark": {
        "type": "text",
        "text": "= -0.993",
        "font": "DejaVu Sans",
        "fontSize": 44,
        "color": "#1c232b",
        "align": "left",
        "baseline": "alphabetic"
      },
      "encoding": {
        "x": {"datum": 0.1278, "type": "quantitative"},
        "y": {"datum": 0.2105, "type": "quantitative"}
      }
    },
    {
      "data": {"values": [{}]},
      "mark": {
        "type": "text",
        "text": [
          "ellipse area = 17 % of the rectangle: two separate",
          "error bars claim a region 5.9× larger than the fit",
          "ever occupied.\u00a0 The ellipse holds 94.7 % of the",
          "replicates and is 16 % wider in τ₁₂ than the cloud"
        ],
        "font": "DejaVu Sans",
        "fontSize": 44,
        "lineHeight": 65,
        "color": "#1c232b",
        "align": "left",
        "baseline": "alphabetic"
      },
      "encoding": {
        "x": {"datum": -0.0566, "type": "quantitative"},
        "y": {"datum": 0.1544, "type": "quantitative"}
      }
    }
  ],
  "config": {
    "view": {"stroke": null},
    "font": "DejaVu Sans",
    "axis": {
      "domainColor": "#2d3746",
      "domainWidth": 3,
      "tickColor": "#2d3746",
      "tickWidth": 3,
      "tickSize": 14,
      "labelFont": "DejaVu Sans",
      "labelFontSize": 44,
      "labelColor": "#36424f",
      "labelPadding": 16,
      "gridColor": "#dcdfe3",
      "gridWidth": 2.5,
      "titleFont": "DejaVu Sans",
      "titleFontSize": 54,
      "titleFontWeight": "normal",
      "titleColor": "#1c232b"
    }
  }
}
